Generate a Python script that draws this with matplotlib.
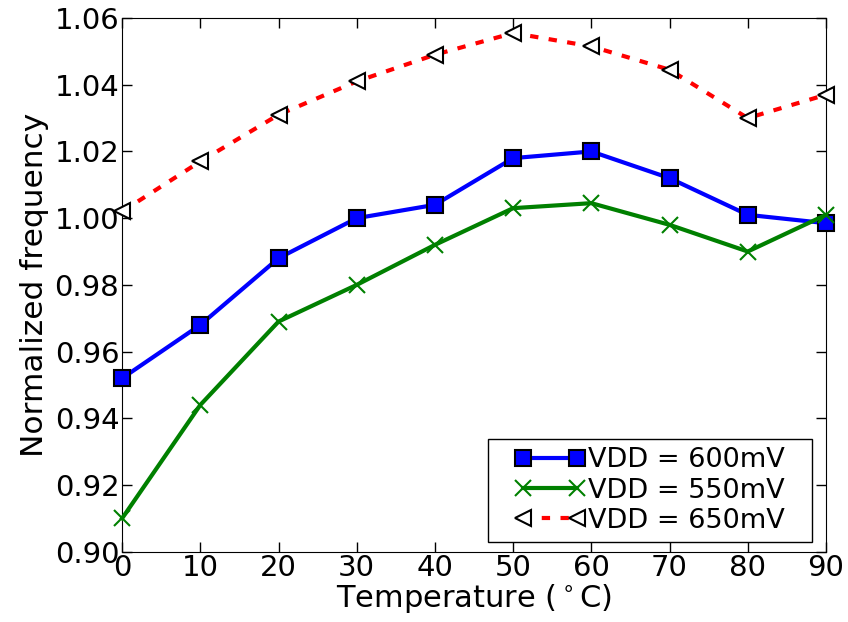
import matplotlib
matplotlib.use("Agg")
import matplotlib.pyplot as plt
from matplotlib.patches import Rectangle
from matplotlib.transforms import IdentityTransform

temperature = [0, 10, 20, 30, 40, 50, 60, 70, 80, 90]
vdd_600 = [0.952, 0.968, 0.988, 1.000, 1.004, 1.018, 1.020, 1.012, 1.001, 0.9985]
vdd_550 = [0.910, 0.944, 0.969, 0.980, 0.992, 1.003, 1.0045, 0.998, 0.990, 1.001]
vdd_650 = [1.002, 1.017, 1.031, 1.041, 1.049, 1.0555, 1.0515, 1.0445, 1.030, 1.037]

fig, ax = plt.subplots(figsize=(8.48, 6.22), dpi=100)
fig.subplots_adjust(left=0.144, right=0.974, top=0.971, bottom=0.113)

ax.plot(temperature, vdd_600, color='blue', linewidth=3, marker='s', markersize=11,
        markerfacecolor='blue', markeredgecolor='black', markeredgewidth=1.5,
        label='VDD = 600mV', clip_on=False, zorder=3)
ax.plot(temperature, vdd_550, color='green', linewidth=3, marker='x', markersize=12,
        markeredgewidth=1.5, label='VDD = 550mV', clip_on=False, zorder=3)
ax.plot(temperature, vdd_650, color='red', linewidth=3, linestyle='--', dashes=(2, 2.5),
        marker='<', markersize=11, markerfacecolor='white', markeredgecolor='black',
        markeredgewidth=1.5, label='VDD = 650mV', clip_on=False, zorder=3)

ax.set_xlim(0, 90)
ax.set_ylim(0.90, 1.06)
ax.set_xticks(temperature)
ax.set_yticks([0.90, 0.92, 0.94, 0.96, 0.98, 1.00, 1.02, 1.04, 1.06])
ax.set_yticklabels([f'{v:.2f}' for v in ax.get_yticks()])
ax.tick_params(direction='in', top=True, right=True, length=7, width=1, labelsize=21, pad=2)

ax.set_xlabel('Temperature ($^\\circ$C)', fontsize=22, labelpad=0)
ax.set_ylabel('Normalized frequency', fontsize=22.5, labelpad=4)

# legend with wider horizontal padding (old-style look): draw the frame by hand
leg = ax.legend(loc='lower right', bbox_to_anchor=(0.953, 0.0187), numpoints=2,
                fontsize=19.5, handlelength=2.6, handletextpad=0.1, borderpad=0.3,
                labelspacing=0.15, borderaxespad=0)
leg.get_frame().set_visible(False)
leg.set_zorder(6)
fig.canvas.draw()
bb = leg.get_window_extent()
dx = 19
frame = Rectangle((bb.x0 - dx, bb.y0), bb.width + 2 * dx, bb.height,
                  transform=IdentityTransform(), facecolor='white',
                  edgecolor='black', linewidth=1, zorder=5, clip_on=False)
ax.add_artist(frame)

plt.savefig('out.png', dpi=100)
